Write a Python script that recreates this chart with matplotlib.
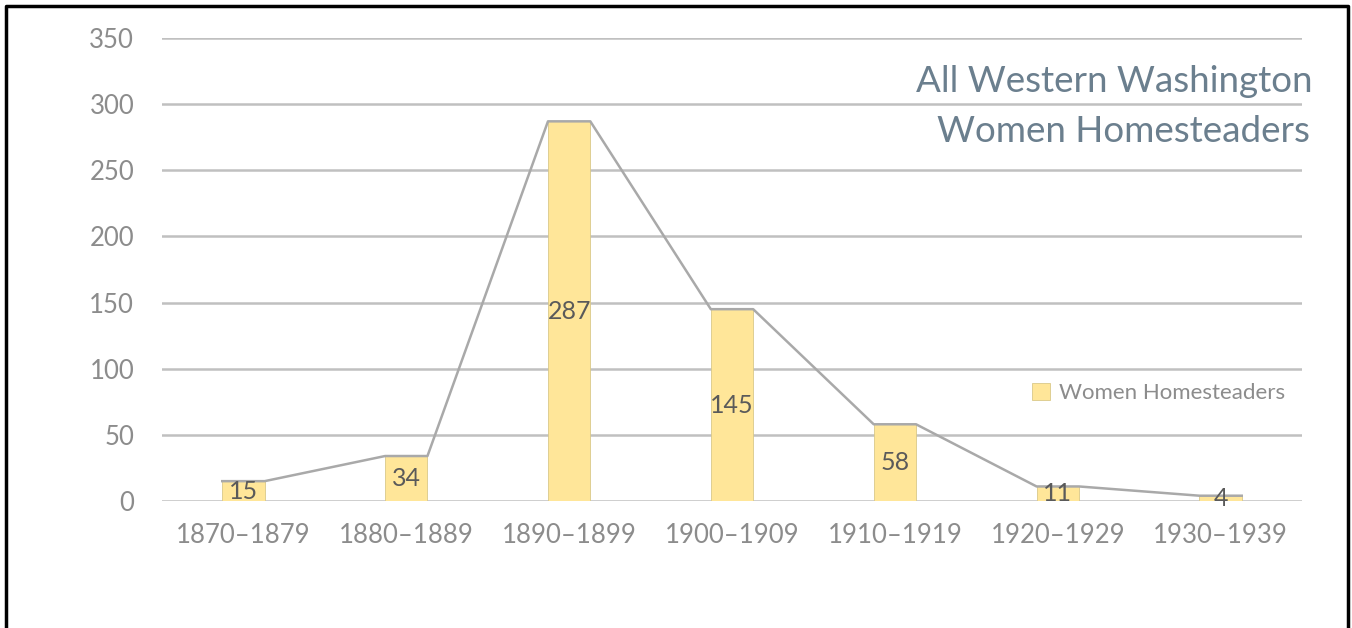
import numpy as np
import matplotlib
matplotlib.use("Agg")
import matplotlib.pyplot as plt
from matplotlib.lines import Line2D
from matplotlib.patches import Patch

decades = ["1870–1879", "1880–1889", "1890–1899", "1900–1909",
           "1910–1919", "1920–1929", "1930–1939"]
homesteaders = [15, 34, 287, 145, 58, 11, 4]
yticks = [0, 50, 100, 150, 200, 250, 300, 350]

plt.rcParams['font.family'] = ['Lato', 'DejaVu Sans']

fig = plt.figure(figsize=(13.52, 6.28), dpi=100)
ax = fig.add_axes([162/1352, 1-501/628, 1140/1352, 463/628])

x = np.arange(len(decades))
w = 0.26
bar_col = '#FFE699'
ax.bar(x, homesteaders, width=w, color=bar_col, edgecolor='#d9c98a',
       linewidth=0.6, zorder=2)

# line follows the bar tops, corner to corner
lx, ly = [], []
for xi, v in zip(x, homesteaders):
    lx += [xi - w/2, xi + w/2]
    ly += [v, v]
ax.plot(lx, ly, color='#a9a9a9', lw=1.8, zorder=3)

for xi, v in zip(x, homesteaders):
    ax.text(xi, v/2, str(v), ha='center', va='center', fontsize=18,
            color='#5a5a5a', zorder=4)

ax.set_xlim(-0.5, 6.5)
ax.set_ylim(0, 350)
ax.set_yticks(yticks)
ax.set_xticks(x)
ax.set_xticklabels(decades)
ax.yaxis.grid(True, color='#c0c0c0', lw=1.8, zorder=0)
ax.set_axisbelow(True)
for s in ax.spines.values():
    s.set_visible(False)
ax.tick_params(length=0, colors='#8c8c8c', labelsize=18.5)
ax.tick_params(axis='y', pad=20)
ax.tick_params(axis='x', pad=16)

fig.text(1313/1352, 1-82/628, "All Western Washington", ha='right', va='center',
         fontsize=26.5, color='#6b7f8e')
fig.text(1310/1352, 1-132/628, "Women Homesteaders", ha='right', va='center',
         fontsize=26.5, color='#6b7f8e')

leg = ax.legend(handles=[Patch(facecolor=bar_col, edgecolor='#d9c98a', lw=0.6,
                               label='Women Homesteaders')],
                loc='center left', bbox_to_anchor=(1012/1352, 1-393/628),
                bbox_transform=fig.transFigure, frameon=False, fontsize=16,
                handlelength=0.8, handleheight=0.8, handletextpad=0.4,
                labelcolor='#8c8c8c')

# screenshot border (left, top, right)
fig.add_artist(Line2D([6/1352, 6/1352, 1348/1352, 1348/1352],
                      [0, 1-6/628, 1-6/628, 0], transform=fig.transFigure,
                      color='black', lw=2.5))

fig.savefig('out.png', dpi=100)
